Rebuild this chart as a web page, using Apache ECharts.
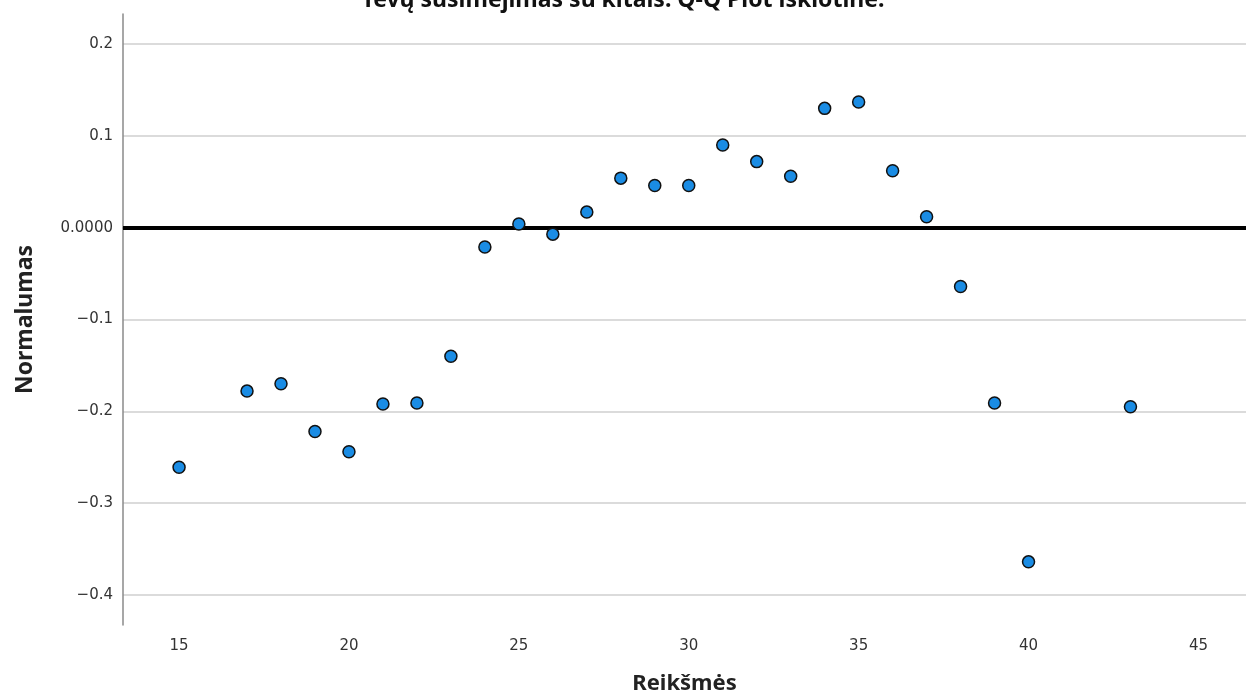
<!DOCTYPE html>
<html>
<head>
<meta charset="utf-8">
<script src="https://cdn.jsdelivr.net/npm/echarts@6/dist/echarts.min.js"></script>
<style>html,body{margin:0;padding:0;background:#fff;}#c{width:1246px;height:700px;}</style>
</head>
<body>
<div id="c"></div>
<script>
const titleText = "Tėvų susimėjimas su kitais: Q-Q Plot išklotinė.";
const xName = "Reikšmės";
const yName = "Normalumas";
const xValues = [15, 17, 18, 19, 20, 21, 22, 23, 24, 25, 26, 27, 28, 29, 30, 31, 32, 33, 34, 35, 36, 37, 38, 39, 40, 43];
const yValues = [-0.261, -0.178, -0.170, -0.222, -0.244, -0.192, -0.191, -0.140, -0.021, 0.004, -0.007, 0.017, 0.054, 0.046, 0.046, 0.090, 0.072, 0.056, 0.130, 0.137, 0.062, 0.012, -0.064, -0.191, -0.364, -0.195];
const xTicks = [15, 20, 25, 30, 35, 40, 45];
const yTicks = [-0.4, -0.3, -0.2, -0.1, 0, 0.1, 0.2];
const referenceValue = 0;

const chart = echarts.init(document.getElementById('c'), null, {renderer: 'canvas'});
const pts = xValues.map((x, i) => [x, yValues[i]]);
const tickFont = {fontFamily: 'DejaVu Sans', fontSize: 15, color: '#333'};
chart.setOption({
  animation: false,
  backgroundColor: '#fff',
  title: {
    text: titleText, left: 'center', top: -16,
    textStyle: {fontFamily: 'Noto Sans', fontWeight: 'bold', fontSize: 23, color: '#111'}
  },
  grid: {left: 123, right: 0, top: 14, bottom: 71, containLabel: false},
  xAxis: {
    type: 'value', min: 13.35, max: 46.4,
    name: xName, nameLocation: 'middle', nameGap: 48,
    nameTextStyle: {fontFamily: 'Noto Sans', fontWeight: 'bold', fontSize: 22, color: '#222'},
    axisLine: {show: true, lineStyle: {color: '#8a8a8a', width: 1.5}},
    axisTick: {show: false, customValues: xTicks},
    axisLabel: Object.assign({customValues: xTicks, margin: 14}, tickFont),
    splitLine: {show: false}
  },
  yAxis: {
    type: 'value', min: -0.4328, max: 0.2328,
    name: yName, nameLocation: 'middle', nameGap: 86, nameRotate: 90,
    nameTextStyle: {fontFamily: 'Noto Sans', fontWeight: 'bold', fontSize: 23, color: '#222'},
    axisLine: {show: true, lineStyle: {color: '#8a8a8a', width: 1.5}},
    axisTick: {show: false, customValues: yTicks},
    axisLabel: Object.assign({
      customValues: yTicks, margin: 10,
      formatter: v => Math.abs(v) < 1e-9 ? '0.0000' : v.toFixed(1).replace('-', '−')
    }, tickFont),
    splitLine: {show: true, lineStyle: {color: '#cfcfcf', width: 1.5}}
  },
  series: [
    {
      type: 'scatter', data: [], z: 2,
      markLine: {
        silent: true, symbol: 'none', label: {show: false},
        lineStyle: {color: '#000', width: 4, type: 'solid'},
        data: [{yAxis: referenceValue}]
      }
    },
    {
      type: 'scatter', data: pts, z: 5,
      symbol: 'circle', symbolSize: 12,
      itemStyle: {color: '#1a8ce4', borderColor: '#111', borderWidth: 1.5, opacity: 1}
    }
  ]
});
</script>
</body>
</html>
